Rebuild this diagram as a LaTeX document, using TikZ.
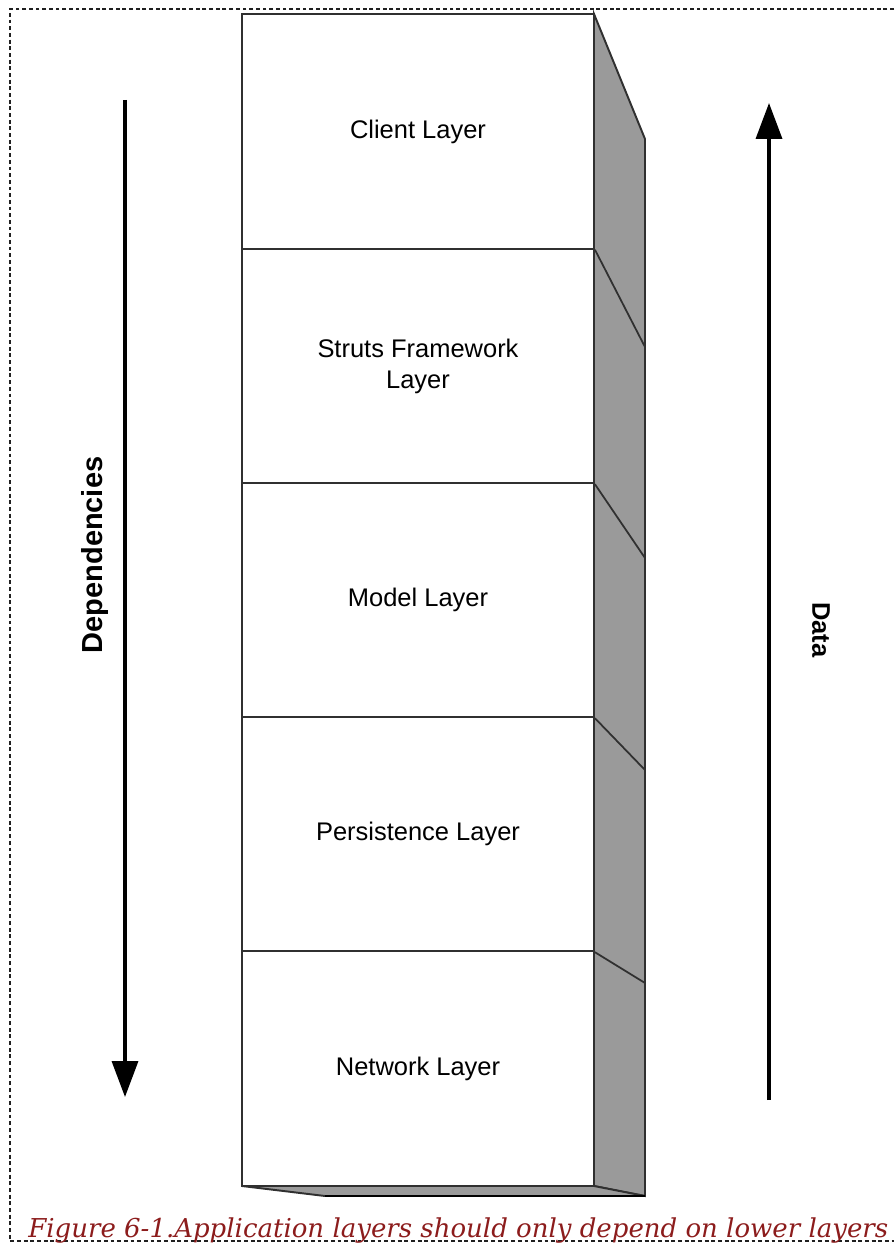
\documentclass[tikz,border=0pt]{standalone}
\usepackage{fontspec}
\setmainfont{Liberation Sans}
\newfontfamily\capfont{DejaVu Serif}
\usetikzlibrary{arrows.meta}
\definecolor{LYEdge}{HTML}{303030}
\definecolor{LYSide}{HTML}{9A9A9A}
\definecolor{LYCaption}{HTML}{8C1C1C}
\definecolor{LYFrame}{HTML}{202020}
\tikzset{
  layer/.style={draw=LYEdge,line width=1.1pt,fill=white,minimum width=7.04cm,
    minimum height=4.69cm,inner sep=0pt,align=center,
    font=\fontsize{14.5}{17.6}\selectfont},
  sideface/.style={draw=LYEdge,line width=1.1pt,fill=LYSide},
  flowarrow/.style={line width=2pt,-{Triangle[length=0.72cm,width=0.52cm]}},
  flowlabel/.style={font=\bfseries\fontsize{16.5}{19}\selectfont},
}

\begin{document}
\begin{tikzpicture}[x=0.02cm,y=-0.02cm]
\path[use as bounding box] (0,0) rectangle (894,1243);
% frame
\draw[LYFrame,line width=0.7pt,dash pattern=on 2.2pt off 1.6pt] (894,9) -- (10,9) -- (10,1241) -- (894,1241);
% side and bottom faces
\filldraw[sideface] (594,14) -- (645,139) -- (645,1196) -- (594,1186) -- cycle;
\filldraw[sideface] (242,1186) -- (594,1186) -- (645,1196) -- (325,1196) -- cycle;
\draw[black,line width=1.6pt] (325,1196) -- (645,1196);
% layers
\node[layer] (client) at (418,131.5) {Client Layer};
\node[layer] (struts) at (418,366) {Struts Framework\\Layer};
\node[layer] (model) at (418,600) {Model Layer};
\node[layer] (persist) at (418,834) {Persistence Layer};
\node[layer] (network) at (418,1068.5) {Network Layer};
\draw[LYEdge,line width=1pt] (client.south east) -- (645,347);
\draw[LYEdge,line width=1pt] (struts.south east) -- (645,558);
\draw[LYEdge,line width=1pt] (model.south east) -- (645,770);
\draw[LYEdge,line width=1pt] (persist.south east) -- (645,983);
% arrows
\coordinate (depStart) at (125,100);
\coordinate (depEnd) at (125,1097);
\draw[flowarrow] (depStart) -- (depEnd);
\coordinate (dataStart) at (769,1100);
\coordinate (dataEnd) at (769,103);
\draw[flowarrow] (dataStart) -- (dataEnd);
\node[flowlabel,rotate=90] (deplabel) at (95,555) {Dependencies};
\node[flowlabel,rotate=-90,font=\bfseries\fontsize{14.5}{17}\selectfont] (datalabel) at (821,630) {Data};
% caption
\node[anchor=base west,inner sep=0pt,text=LYCaption,
  font=\capfont\itshape\fontsize{14.8}{18}\selectfont] (caption) at (28,1237)
  {Figure 6-1.Application layers should only depend on lower layers};
\end{tikzpicture}
\end{document}
